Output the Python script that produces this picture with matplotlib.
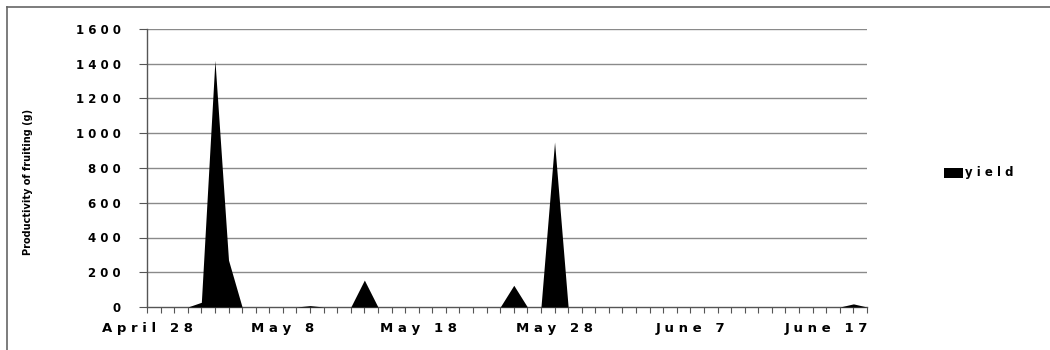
import matplotlib
matplotlib.use("Agg")
import matplotlib.pyplot as plt
from matplotlib.lines import Line2D
from matplotlib.patches import Rectangle
import numpy as np

# Daily yield, April 28 onwards (one value per day)
yield_g = [0, 0, 0, 0, 27, 1420, 270, 0, 0, 0,
           0, 0, 8, 0, 0, 0, 155, 0, 0, 0,
           0, 0, 0, 0, 0, 0, 0, 125, 0, 0,
           950, 0, 0, 0, 0, 0, 0, 0, 0, 0,
           0, 0, 0, 0, 0, 0, 0, 0, 0, 0,
           0, 0, 18, 0]
date_labels = ["April 28", "May 8", "May 18", "May 28", "June 7", "June 17"]
label_every = 10
y_ticks = [0, 200, 400, 600, 800, 1000, 1200, 1400, 1600]
y_label = "Productivity of fruiting (g)"
series_name = "yield"


def spaced(s):
    return " ".join(s)


fig = plt.figure(figsize=(10.5, 3.5), dpi=100)
fig.patch.set_facecolor("white")
ax = fig.add_axes([147 / 1050, 1 - 307 / 350, (867 - 147) / 1050, (307 - 29) / 350])

x = np.arange(len(yield_g))
ax.fill_between(x, 0, yield_g, color="black", linewidth=0, zorder=3)

ax.set_xlim(0, len(yield_g) - 1)
ax.set_ylim(0, 1600)

grid_col = "#8a8a8a"
ax.set_yticks(y_ticks)
ax.set_yticklabels([spaced(str(v)) for v in y_ticks], fontsize=8.5,
                   fontweight="bold", family="DejaVu Sans")
for v in y_ticks[1:]:
    ax.axhline(v, color=grid_col, lw=1.0, zorder=1)

ax.set_xticks(x, minor=True)
ax.set_xticks(x[::label_every])
ax.set_xticklabels([spaced(s) for s in date_labels], fontsize=9.5,
                   fontweight="bold", family="DejaVu Sans")
ax.tick_params(axis="x", which="both", length=4, width=0.8, color="#555555",
               direction="out", pad=7)
ax.tick_params(axis="y", length=6, width=0.8, color="#555555", pad=13)

for side in ["top", "right"]:
    ax.spines[side].set_visible(False)
for side in ["left", "bottom"]:
    ax.spines[side].set_color("#555555")
    ax.spines[side].set_linewidth(1.0)

fig.text(28 / 1050, 1 - 182 / 350, y_label, rotation=90, fontsize=7,
         fontweight="bold", ha="center", va="center", family="DejaVu Sans Condensed")

# Legend: swatch plus name
fig.patches.append(Rectangle((944 / 1050, 1 - 178 / 350), 19 / 1050, 10 / 350,
                             transform=fig.transFigure, facecolor="black",
                             edgecolor="none"))
fig.text(965 / 1050, 1 - 173 / 350, spaced(series_name), fontsize=8.5,
         fontweight="bold", ha="left", va="center", family="DejaVu Sans")

# Chart-area frame
fig.lines.append(Line2D([7 / 1050, 7 / 1050], [0, 1 - 7 / 350],
                        transform=fig.transFigure, color="#666666", lw=1.2))
fig.lines.append(Line2D([7 / 1050, 1], [1 - 7 / 350, 1 - 7 / 350],
                        transform=fig.transFigure, color="#666666", lw=1.2))

fig.savefig("out.png", dpi=100, facecolor="white")
